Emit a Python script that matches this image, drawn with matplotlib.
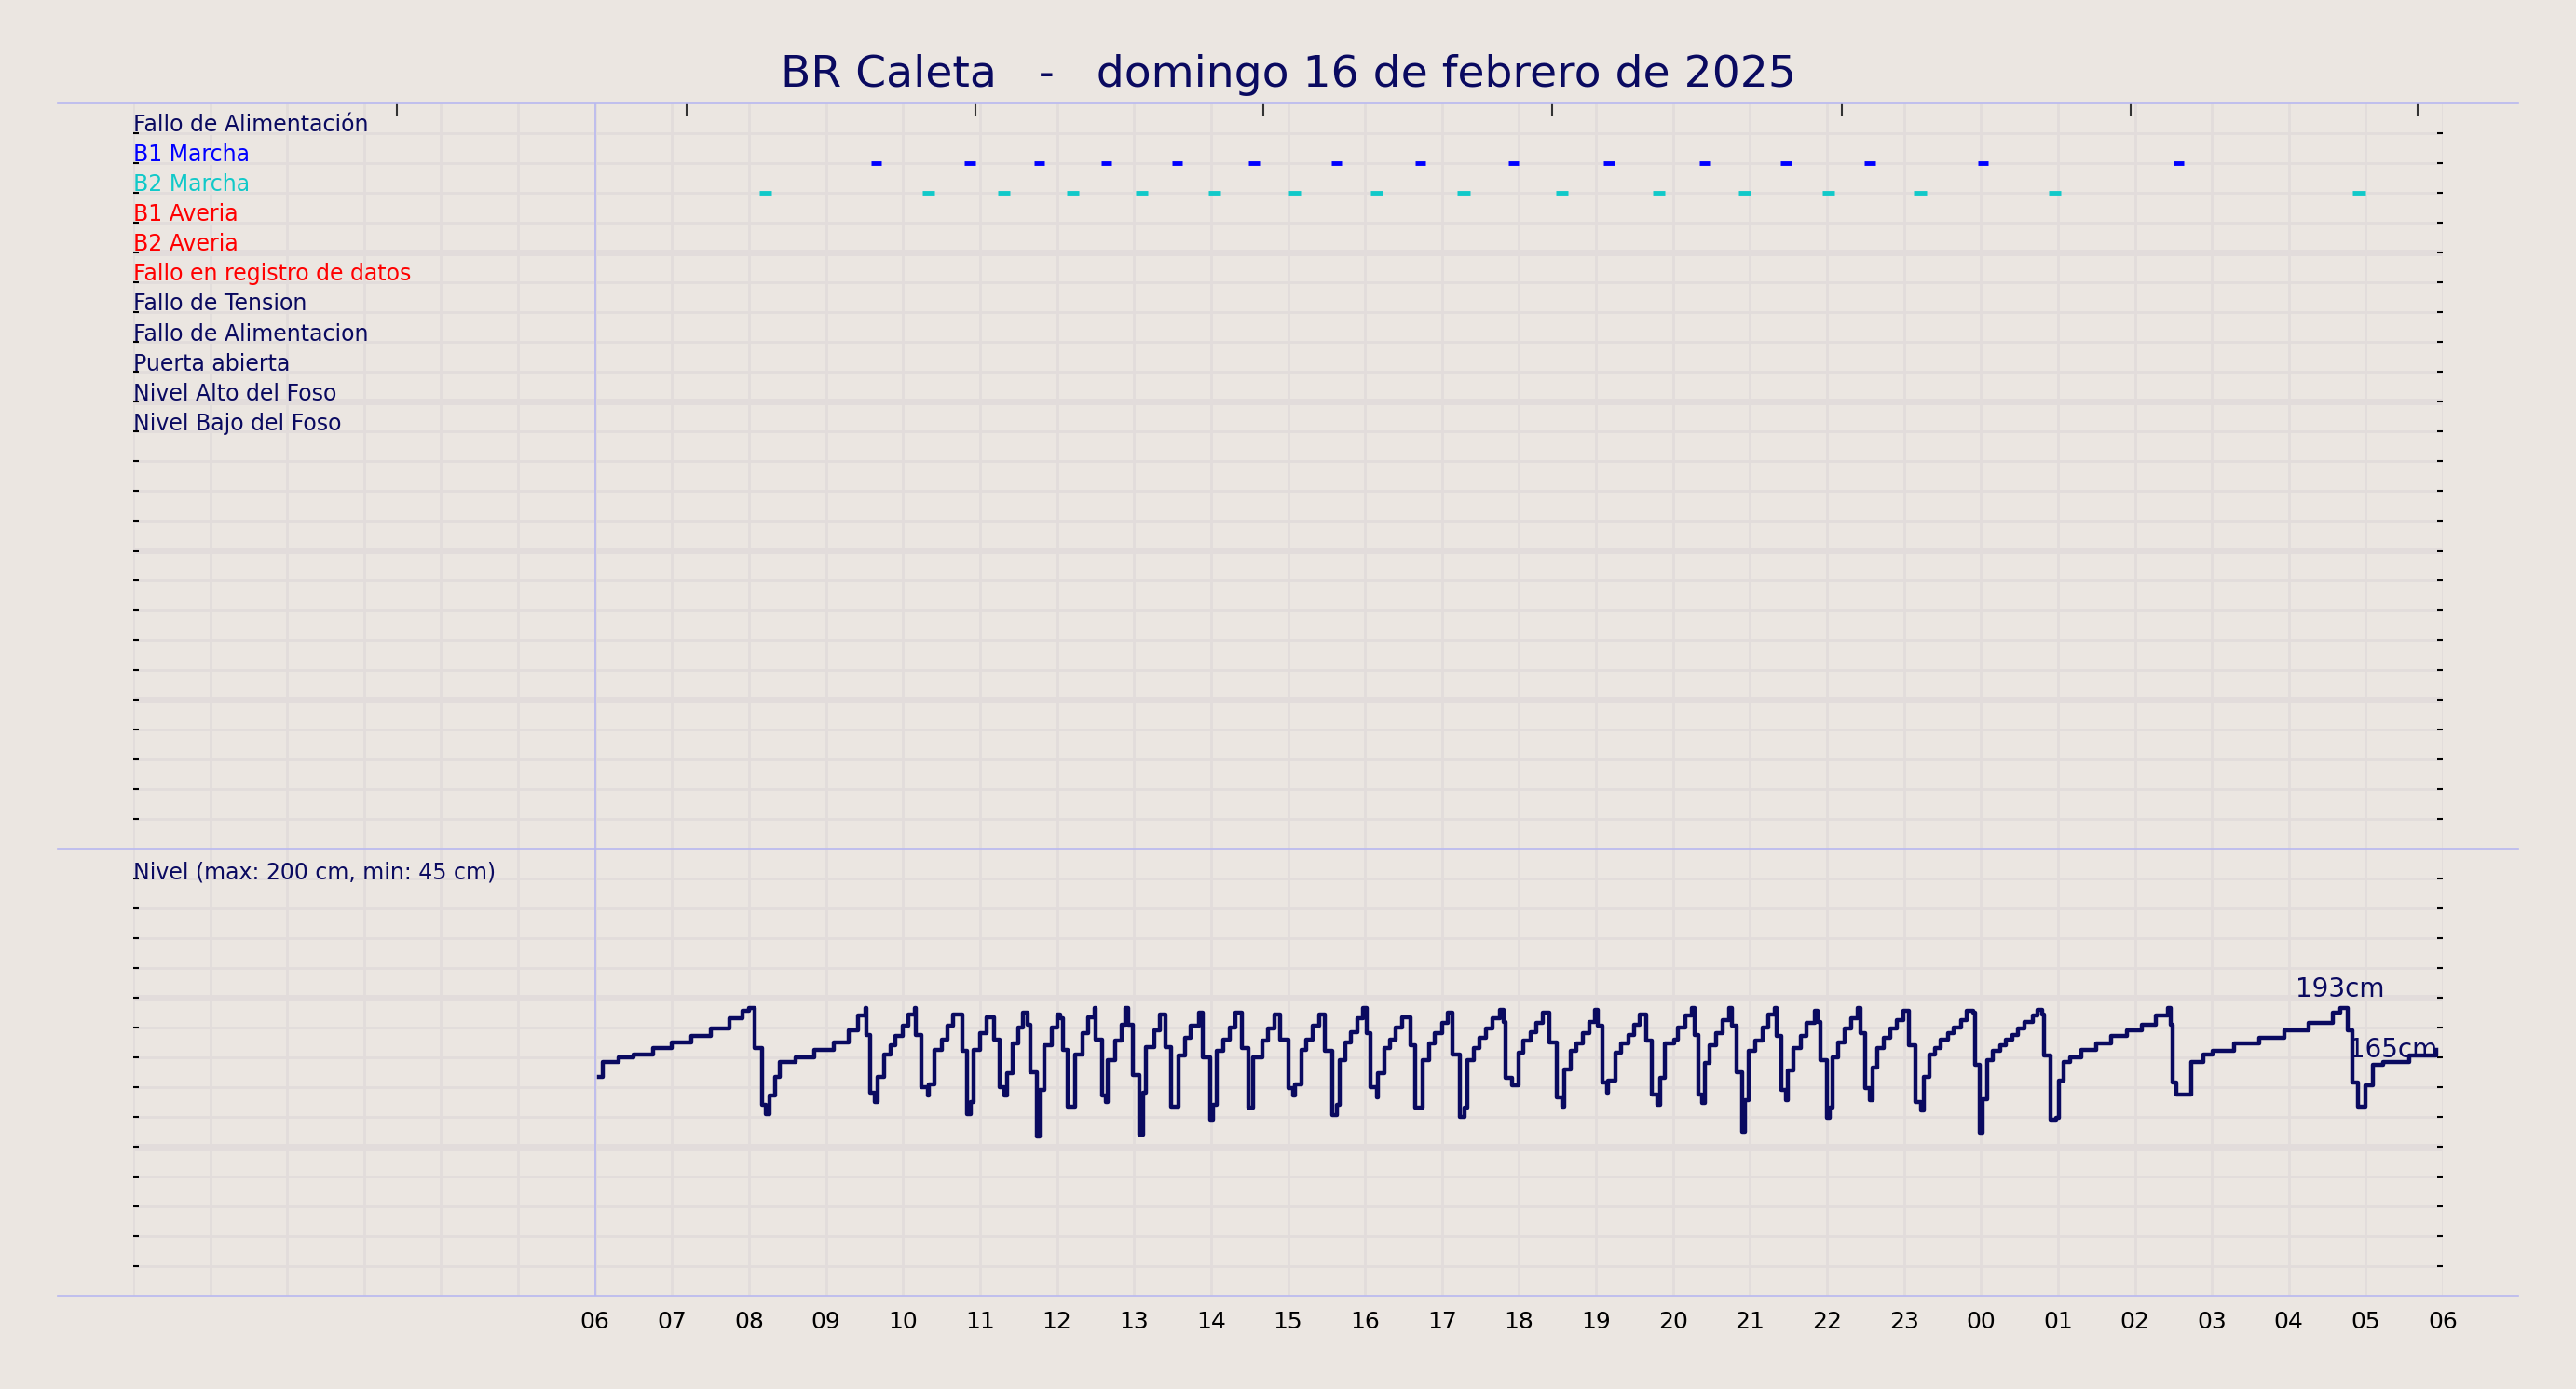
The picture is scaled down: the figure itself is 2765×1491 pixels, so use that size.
import matplotlib
matplotlib.use("Agg")
import matplotlib.pyplot as plt
from matplotlib.lines import Line2D

title = "BR Caleta   -   domingo 16 de febrero de 2025"
signal_labels = ["Fallo de Alimentación", "B1 Marcha", "B2 Marcha", "B1 Averia", "B2 Averia",
                 "Fallo en registro de datos", "Fallo de Tension", "Fallo de Alimentacion",
                 "Puerta abierta", "Nivel Alto del Foso", "Nivel Bajo del Foso"]
signal_colors = ["#0a0a60", "#0000ff", "#11c9c9", "#ff0000", "#ff0000", "#ff0000",
                 "#0a0a60", "#0a0a60", "#0a0a60", "#0a0a60", "#0a0a60"]
b1_on = [9.58, 10.80, 11.70, 12.57, 13.49, 14.49, 15.56, 16.65, 17.86, 19.10, 20.34, 21.40,
         22.49, 23.96, 26.50]
b2_on = [8.13, 10.25, 11.23, 12.12, 13.02, 13.96, 15.00, 16.07, 17.20, 18.48, 19.74, 20.85,
         21.94, 23.13, 24.88, 28.83]
hour_ticks = list(range(6, 31))
hour_labels = ["%02d" % (h % 24) for h in hour_ticks]
top_ticks = [3.43, 7.19, 10.94, 14.68, 18.43, 22.19, 25.94, 29.67]

level_t = [6.05, 6.10, 6.3, 6.5, 6.75, 7.0, 7.25, 7.5, 7.75, 7.92, 8.0,
 8.07, 8.17, 8.22, 8.26, 8.34, 8.40, 8.6, 8.85, 9.1, 9.3, 9.42, 9.51,
 9.53, 9.57, 9.63, 9.67, 9.75, 9.84, 9.90, 10.0, 10.07, 10.15,
 10.17, 10.24, 10.32, 10.34, 10.41, 10.50, 10.58, 10.65,
 10.77, 10.83, 10.88, 10.91, 11.0, 11.08,
 11.18, 11.25, 11.31, 11.35, 11.42, 11.50, 11.56, 11.62,
 11.66, 11.74, 11.77, 11.83, 11.93, 12.0, 12.04,
 12.08, 12.14, 12.23, 12.33, 12.41, 12.49,
 12.50, 12.58, 12.64, 12.66, 12.75, 12.84, 12.89, 12.93,
 12.99, 13.07, 13.12, 13.16, 13.26, 13.34,
 13.41, 13.48, 13.58, 13.66, 13.74, 13.84,
 13.89, 13.99, 14.03, 14.07, 14.16, 14.24, 14.32,
 14.40, 14.49, 14.55, 14.67, 14.74, 14.82,
 14.90, 15.0, 15.07, 15.09, 15.17, 15.24, 15.32, 15.41,
 15.48, 15.58, 15.63, 15.67, 15.75, 15.82, 15.90, 15.98,
 16.02, 16.07, 16.15, 16.17, 16.25, 16.32, 16.40, 16.48,
 16.59, 16.65, 16.75, 16.83, 16.90, 17.0, 17.07,
 17.13, 17.23, 17.29, 17.33, 17.41, 17.49, 17.57, 17.66, 17.75,
 17.80, 17.83, 17.91, 17.99, 18.06, 18.15, 18.23, 18.31,
 18.40, 18.49, 18.56, 18.59, 18.67, 18.75, 18.83, 18.91, 18.99,
 19.02, 19.08, 19.14, 19.16, 19.25, 19.33, 19.42, 19.49, 19.57,
 19.65, 19.73, 19.80, 19.83, 19.90, 20.01, 20.07, 20.16, 20.24,
 20.28, 20.33, 20.38, 20.41, 20.48, 20.56, 20.64, 20.73,
 20.77, 20.83, 20.90, 20.93, 20.99, 21.07, 21.16, 21.24, 21.32,
 21.35, 21.41, 21.47, 21.49, 21.57, 21.66, 21.73, 21.84,
 21.88, 21.92, 22.0, 22.04, 22.07, 22.15, 22.23, 22.32, 22.40,
 22.44, 22.50, 22.56, 22.59, 22.65, 22.74, 22.82, 22.91, 22.99,
 23.06, 23.15, 23.22, 23.26, 23.33, 23.40, 23.48, 23.57, 23.65, 23.74, 23.82, 23.90,
 23.93, 23.99, 24.02, 24.08, 24.16, 24.25, 24.33, 24.41, 24.48, 24.56, 24.67, 24.74,
 24.79, 24.82, 24.90, 24.98, 25.01, 25.07, 25.16, 25.31, 25.50, 25.69, 25.90, 26.09, 26.27, 26.43,
 26.46, 26.49, 26.54, 26.67, 26.73, 26.89, 27.01, 27.29, 27.62, 27.94, 28.26, 28.57, 28.67,
 28.76, 28.83, 28.90, 29.0, 29.09, 29.23, 29.56, 29.92]
level_cm = [147, 157, 160, 162, 166, 170, 174, 179, 186, 191, 193,
 166, 128, 122, 134, 147, 157, 160, 165, 170, 178, 188, 193,
 175, 136, 130, 147, 162, 168, 174, 181, 189, 193,
 175, 140, 134, 142, 165, 172, 181, 189,
 164, 122, 130, 165, 176, 187,
 172, 140, 134, 149, 169, 180, 190, 182,
 150, 107, 138, 168, 180, 189, 186,
 165, 127, 162, 176, 187, 193,
 172, 134, 130, 158, 171, 182, 193, 182,
 148, 108, 136, 167, 178, 189,
 167, 127, 161, 173, 181, 190,
 160, 118, 128, 164, 172, 180, 190,
 166, 126, 160, 171, 179, 189,
 172, 139, 134, 142, 165, 172, 181, 189,
 164, 121, 128, 158, 170, 177, 186, 193,
 176, 140, 133, 149, 166, 172, 180, 187,
 168, 126, 158, 169, 176, 183, 190,
 162, 120, 126, 158, 166, 173, 179, 186, 192,
 184, 146, 141, 163, 171, 177, 183, 190,
 170, 133, 127, 152, 164, 169, 176, 184, 192,
 181, 143, 136, 144, 163, 169, 175, 182, 189,
 171, 135, 128, 146, 169, 172, 180, 188, 193,
 175, 135, 129, 156, 168, 176, 185, 193,
 181, 150, 110, 131, 164, 171, 180, 189, 193,
 174, 138, 131, 151, 166, 174, 183, 191,
 184, 158, 119, 126, 160, 170, 179, 186, 193,
 176, 139, 131, 153, 166, 173, 179, 185, 191,
 168, 130, 124, 147, 162, 166, 172, 176, 180, 185, 191, 190,
 155, 109, 132, 158, 164, 168, 172, 175, 179, 184, 188, 192,
 189, 161, 118, 119, 144, 157, 160, 165, 169, 174, 178, 182, 188, 193,
 182, 143, 135, 135, 157, 162, 164, 169, 173, 178, 183, 190, 193,
 178, 143, 127, 141, 155, 157, 161, 165]

BG = "#ebe6e1"
GRID = "#e2dcdb"
NAVY = "#0a0a60"
LINE = "#b8b8f0"

fig = plt.figure(figsize=(27.65, 14.91), dpi=100, facecolor=BG)
L, R = 0.0517, 0.9483
ax1 = fig.add_axes([L, 0.3889, R - L, 0.9255 - 0.3889], facecolor=BG)
ax2 = fig.add_axes([L, 0.0674, R - L, 0.3889 - 0.0674], facecolor=BG)

for ax in (ax1, ax2):
    ax.set_xlim(0, 30)
    for s in ax.spines.values():
        s.set_visible(False)
    for h in range(0, 31):
        ax.axvline(h, color=GRID, lw=2, zorder=0)
    ax.axvline(6, color=LINE, lw=1.2, zorder=1)

# top panel
ax1.set_ylim(25, 0)
for k in range(1, 25):
    ax1.axhline(k, color=GRID, lw=5 if k % 5 == 0 else 2, zorder=0)
ax1.set_yticks(range(1, 25))
ax1.set_yticklabels([])
ax1.tick_params(axis="y", left=True, right=True, direction="in", length=4, width=1.5, color="black")
ax1.set_xticks(top_ticks)
ax1.set_xticklabels([])
ax1.tick_params(axis="x", bottom=False, top=True, direction="in", length=9, width=1.5, color="#333333")
for i, (lab, c) in enumerate(zip(signal_labels, signal_colors)):
    ax1.text(0.0, i + 1 - 0.05, lab, color=c, fontsize=17, va="baseline", ha="left",
             family=["Liberation Sans Narrow", "DejaVu Sans"])
ax1.hlines([2] * len(b1_on), b1_on, [t + 0.14 for t in b1_on], color="#0000ff", lw=3.5)
ax1.hlines([3] * len(b2_on), b2_on, [t + 0.16 for t in b2_on], color="#11c9c9", lw=3.5)

# bottom panel
ax2.set_ylim(0, 300)
for v in range(20, 300, 20):
    ax2.axhline(v, color=GRID, lw=5 if v % 100 == 0 else 2, zorder=0)
ax2.set_yticks(range(20, 300, 20))
ax2.set_yticklabels([])
ax2.tick_params(axis="y", left=True, right=True, direction="in", length=4, width=1.5, color="black")
ax2.set_xticks(hour_ticks)
ax2.set_xticklabels(hour_labels, fontsize=18, color="black")
ax2.tick_params(axis="x", length=0, pad=12)
ax2.step(level_t, level_cm, where="post", color=NAVY, lw=3.2, zorder=3)
ax2.text(0.0, 284, "Nivel (max: 200 cm, min: 45 cm)", color=NAVY, fontsize=17, va="center",
         family=["Liberation Sans Narrow", "DejaVu Sans"])
ax2.text(28.67, 197, "193cm", color=NAVY, fontsize=20, ha="center", va="bottom")
ax2.text(29.93, 165, "165cm", color=NAVY, fontsize=20, ha="right", va="center")

# frame lines
for y in (0.9255, 0.3889, 0.0674):
    fig.add_artist(Line2D([0.0223, 0.9777], [y, y], transform=fig.transFigure, color=LINE, lw=1.2))

fig.text(0.5, 0.946, title, ha="center", va="center", fontsize=34, color=NAVY)

fig.savefig("out.png", dpi=100, facecolor=BG)
